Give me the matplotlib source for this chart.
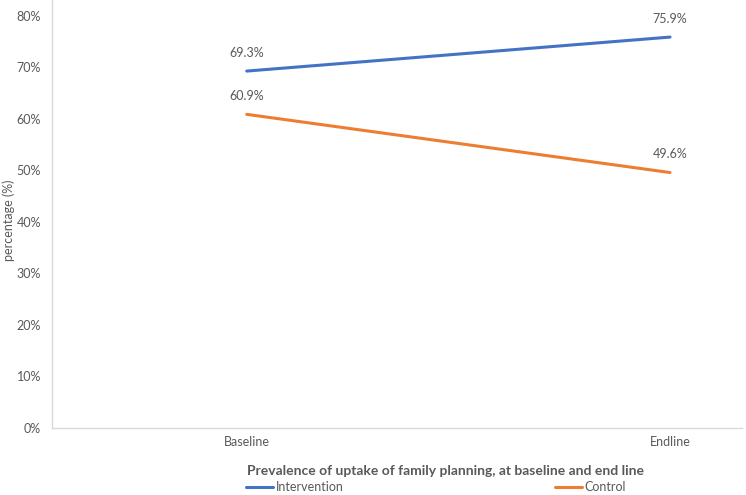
import matplotlib.pyplot as plt
from matplotlib.ticker import PercentFormatter

plt.rcParams['font.family'] = ['Lato', 'DejaVu Sans']

categories = ["Baseline", "Endline"]
intervention = [0.693, 0.759]
control = [0.609, 0.496]
y_ticks = [0, 0.1, 0.2, 0.3, 0.4, 0.5, 0.6, 0.7, 0.8]

blue = "#4472C4"
orange = "#ED7D31"
grey = "#595959"

fig = plt.figure(figsize=(7.46, 4.95), dpi=100)
ax = fig.add_axes([52 / 746, 1 - 428 / 495, 690 / 746, 428 / 495])

x = list(range(len(categories)))
ax.plot(x, intervention, color=blue, lw=2.2, label="Intervention", solid_capstyle="round")
ax.plot(x, control, color=orange, lw=2.2, label="Control", solid_capstyle="round")

for xi, v in zip(x, intervention):
    ax.annotate(f"{v*100:.1f}%", (xi, v), xytext=(0, 9), textcoords="offset points",
                ha="center", va="bottom", fontsize=9, color=grey)
for xi, v in zip(x, control):
    ax.annotate(f"{v*100:.1f}%", (xi, v), xytext=(0, 9), textcoords="offset points",
                ha="center", va="bottom", fontsize=9, color=grey)

ax.set_xlim(-0.46, 1.17)
ax.set_ylim(0, 0.831)
ax.set_yticks(y_ticks)
ax.yaxis.set_major_formatter(PercentFormatter(1.0, decimals=0))
ax.set_xticks(x)
ax.set_xticklabels(categories)
ax.tick_params(length=0, labelsize=9, colors=grey, pad=8)
ax.tick_params(axis="x", pad=6)

for s in ["top", "right"]:
    ax.spines[s].set_visible(False)
for s in ["left", "bottom"]:
    ax.spines[s].set_color("#D9D9D9")
    ax.spines[s].set_linewidth(1)

ax.set_ylabel("percentage (%)", fontsize=9, color=grey)
ax.yaxis.set_label_coords(-0.053, 0.486)
ax.set_xlabel("Prevalence of uptake of family planning, at baseline and end line",
              fontsize=10, fontweight="bold", color=grey)
ax.xaxis.set_label_coords(0.571, -37 / 428)

leg = fig.legend(loc="center", bbox_to_anchor=(436 / 746, 1 - 487 / 495), ncol=2,
                 frameon=False, fontsize=9, handlelength=2.2, handletextpad=0.2,
                 columnspacing=16.9, borderaxespad=0)
for t in leg.get_texts():
    t.set_color(grey)

plt.savefig("out.png", dpi=100)
